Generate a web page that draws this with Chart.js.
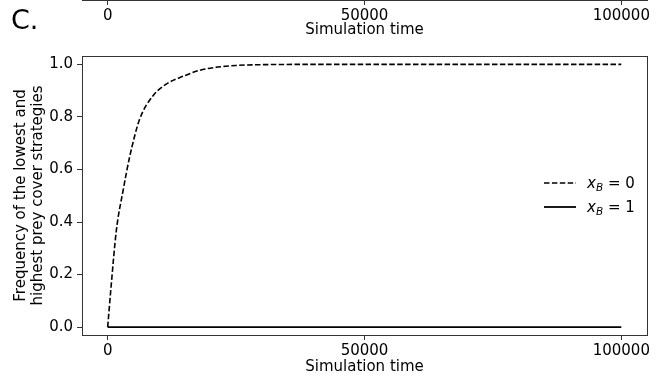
<!DOCTYPE html>
<html>
<head>
<meta charset="utf-8">
<script src="https://cdn.jsdelivr.net/npm/chart.js@4.4.0/dist/chart.umd.min.js"></script>
<style>
  html, body { margin: 0; padding: 0; background: #fff; }
  body { width: 665px; height: 381px; position: relative; overflow: hidden; font-family: "DejaVu Sans", sans-serif; color: #000; }
  #main { position: absolute; left: 0; top: 0; }
  #prev { position: absolute; left: 0; top: -160px; }
  #panel { position: absolute; left: 11px; top: 6px; font-size: 27px; line-height: 27px; }
  .leg { position: absolute; left: 544px; height: 18px; display: flex; align-items: center; font-size: 15px; white-space: nowrap; }
  .leg svg { display: block; }
  .leg .lbl { margin-left: 11px; }
  .leg sub { font-size: 10.5px; font-style: italic; vertical-align: -3px; line-height: 0; }
</style>
</head>
<body>
<canvas id="main" width="665" height="381"></canvas>
<canvas id="prev" width="665" height="200"></canvas>
<div id="panel">C.</div>
<div id="legend"></div>
<script>
const xTicks = [0, 50000, 100000];
const yTicks = [0, 0.2, 0.4, 0.6, 0.8, 1.0];

// x_B = 0 (dashed)
const timeB0 = [0, 600, 1700, 3000, 4300, 6200, 8800, 11400, 14700, 18000, 21500, 25000, 30000, 40000, 100000];
const freqB0 = [0, 0.14, 0.37, 0.52, 0.65, 0.79, 0.88, 0.925, 0.955, 0.978, 0.99, 0.996, 0.999, 1.0, 1.0];
// x_B = 1 (solid)
const timeB1 = [0, 100000];
const freqB1 = [0, 0];

const seriesLabels = ['x_B = 0', 'x_B = 1'];

const FONT = 'DejaVu Sans';
const AX = '#333';

const framePlugin = {
    id: 'frame',
    afterDatasetsDraw(chart) {
        const { ctx, chartArea: a } = chart;
        ctx.save();
        ctx.strokeStyle = AX;
        ctx.lineWidth = 1;
        ctx.strokeRect(Math.round(a.left) + 0.5, Math.round(a.top) + 0.5, Math.round(a.right - a.left), Math.round(a.bottom - a.top));
        ctx.restore();
    }
};

function xAxis(height, titlePad) {
    return {
        type: 'linear',
        min: -5000,
        max: 105000,
        afterBuildTicks: s => { s.ticks = xTicks.map(v => ({ value: v })); },
        afterFit: s => { s.height = height; },
        ticks: { color: '#000', font: { family: FONT, size: 15 }, padding: 2, maxRotation: 0, autoSkip: false, callback: v => String(v) },
        grid: { display: true, drawOnChartArea: false, drawTicks: true, tickLength: 5, tickColor: AX },
        border: { display: true, color: AX, width: 1 },
        title: { display: true, text: 'Simulation time', color: '#000', font: { family: FONT, size: 15 }, padding: { top: 0, bottom: titlePad } }
    };
}

new Chart(document.getElementById('main'), {
    type: 'line',
    data: {
        datasets: [
            {
                label: seriesLabels[0],
                data: timeB0.map((t, i) => ({ x: t, y: freqB0[i] })),
                borderColor: '#000',
                borderWidth: 1.6,
                borderDash: [5.5, 2.4],
                pointRadius: 0,
                cubicInterpolationMode: 'monotone',
                fill: false
            },
            {
                label: seriesLabels[1],
                data: timeB1.map((t, i) => ({ x: t, y: freqB1[i] })),
                borderColor: '#000',
                borderWidth: 1.8,
                pointRadius: 0,
                fill: false
            }
        ]
    },
    options: {
        responsive: false,
        animation: false,
        layout: { padding: { top: 56, right: 18, left: 0, bottom: 0 } },
        scales: {
            x: xAxis(46, 5),
            y: {
                type: 'linear',
                min: -0.03,
                max: 1.032,
                afterBuildTicks: s => { s.ticks = yTicks.map(v => ({ value: v })); },
                afterFit: s => { s.width = 82; },
                ticks: { color: '#000', font: { family: FONT, size: 15 }, padding: 4, callback: v => v.toFixed(1) },
                grid: { display: true, drawOnChartArea: false, drawTicks: true, tickLength: 5, tickColor: AX },
                border: { display: true, color: AX, width: 1 },
                title: {
                    display: true,
                    text: ['Frequency of the lowest and', 'highest prey cover strategies'],
                    color: '#000',
                    font: { family: FONT, size: 15, lineHeight: 1.1 },
                    padding: { top: 13, bottom: 0 }
                }
            }
        },
        plugins: { legend: { display: false }, tooltip: { enabled: false } }
    },
    plugins: [framePlugin]
});

// axis of the panel above (cut off at the top of the picture)
new Chart(document.getElementById('prev'), {
    type: 'line',
    data: { datasets: [] },
    options: {
        responsive: false,
        animation: false,
        layout: { padding: { top: 0, right: 18, left: 82, bottom: 0 } },
        scales: {
            x: xAxis(40, 1),
            y: { display: false, min: 0, max: 1 }
        },
        plugins: { legend: { display: false }, tooltip: { enabled: false } }
    }
});

// legend with math-style labels
const legendTops = [174, 198];
const dashes = ['5.5 2.4', ''];
const widths = [1.6, 1.8];
const legendEl = document.getElementById('legend');
seriesLabels.forEach((lab, i) => {
    const [lhs, rhs] = lab.split(' = ');
    const [v, sub] = lhs.split('_');
    const row = document.createElement('div');
    row.className = 'leg';
    row.style.top = legendTops[i] + 'px';
    row.innerHTML = `<svg width="32" height="18"><line x1="0" y1="9" x2="32" y2="9" stroke="#000" stroke-width="${widths[i]}" ${dashes[i] ? `stroke-dasharray="${dashes[i]}"` : ''}/></svg>` +
        `<span class="lbl"><i>${v}</i><sub>${sub}</sub> = ${rhs}</span>`;
    legendEl.appendChild(row);
});
</script>
</body>
</html>
